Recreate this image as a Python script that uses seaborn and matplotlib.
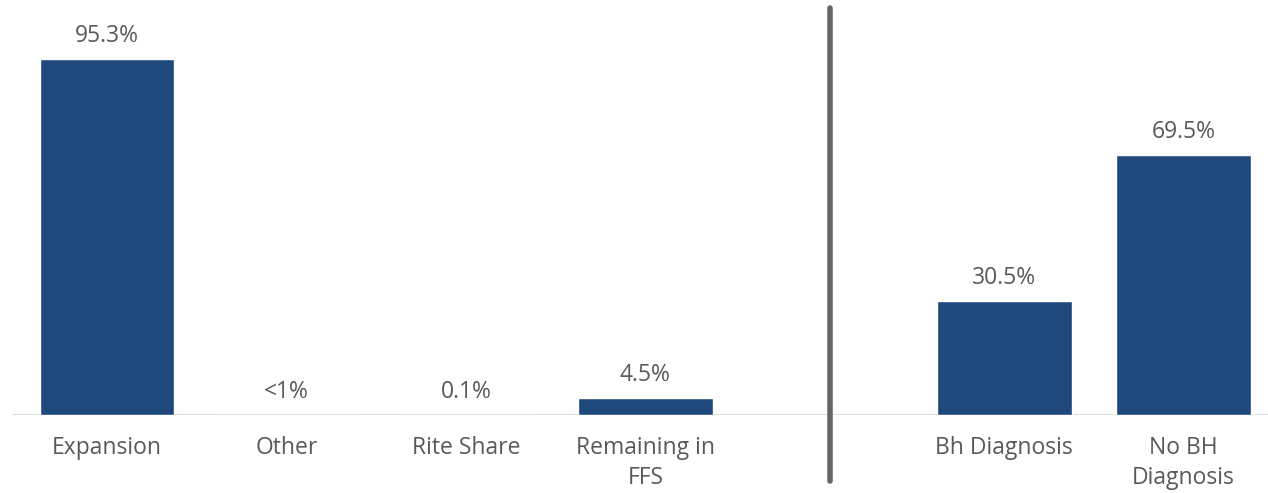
import matplotlib
matplotlib.use('Agg')
import matplotlib.pyplot as plt
import seaborn as sns
import pandas as pd
import numpy as np

# data
categories = ["Expansion", "Other", "Rite Share", "Remaining in\nFFS", " ",
              "Bh Diagnosis", "No BH\nDiagnosis"]
values = [95.3, 0.1, 0.1, 4.5, np.nan, 30.5, 69.5]
value_labels = ["95.3%", "<1%", "0.1%", "4.5%", "", "30.5%", "69.5%"]

BAR = '#1F497D'
TXT = '#595959'

sns.set_style("white")
plt.rcParams['font.family'] = ['Open Sans', 'DejaVu Sans']

df = pd.DataFrame({"cat": categories, "val": values})

fig = plt.figure(figsize=(12.68, 4.93), dpi=100)
ax = fig.add_axes([0.0095, 0.1582, 0.9905, 0.8256])

sns.barplot(data=df.dropna(), x="cat", y="val", order=categories,
            color=BAR, saturation=1, width=0.75, ax=ax)

ax.set_xlim(-0.53, 6.47)
ax.set_ylim(0, 108.9)

for i, (v, lab) in enumerate(zip(values, value_labels)):
    if not lab:
        continue
    ax.annotate(lab, (i, v), xytext=(0, 8), textcoords='offset points',
                ha='center', va='bottom', fontsize=16.5, color=TXT)

# baseline
ax.axhline(0, color='#d9d9d9', lw=2, zorder=0)

# separator between the two groups
ax.axvline(4.03, ymin=-0.162, ymax=1.0, color='#666666', lw=4, clip_on=False)

for s in ax.spines.values():
    s.set_visible(False)
ax.set_yticks([])
ax.set_xlabel("")
ax.set_ylabel("")
ax.tick_params(axis='x', length=0, pad=15, labelsize=16.5, colors=TXT)
for t in ax.get_xticklabels():
    t.set_linespacing(1.35)

fig.savefig("out.png", dpi=100)
